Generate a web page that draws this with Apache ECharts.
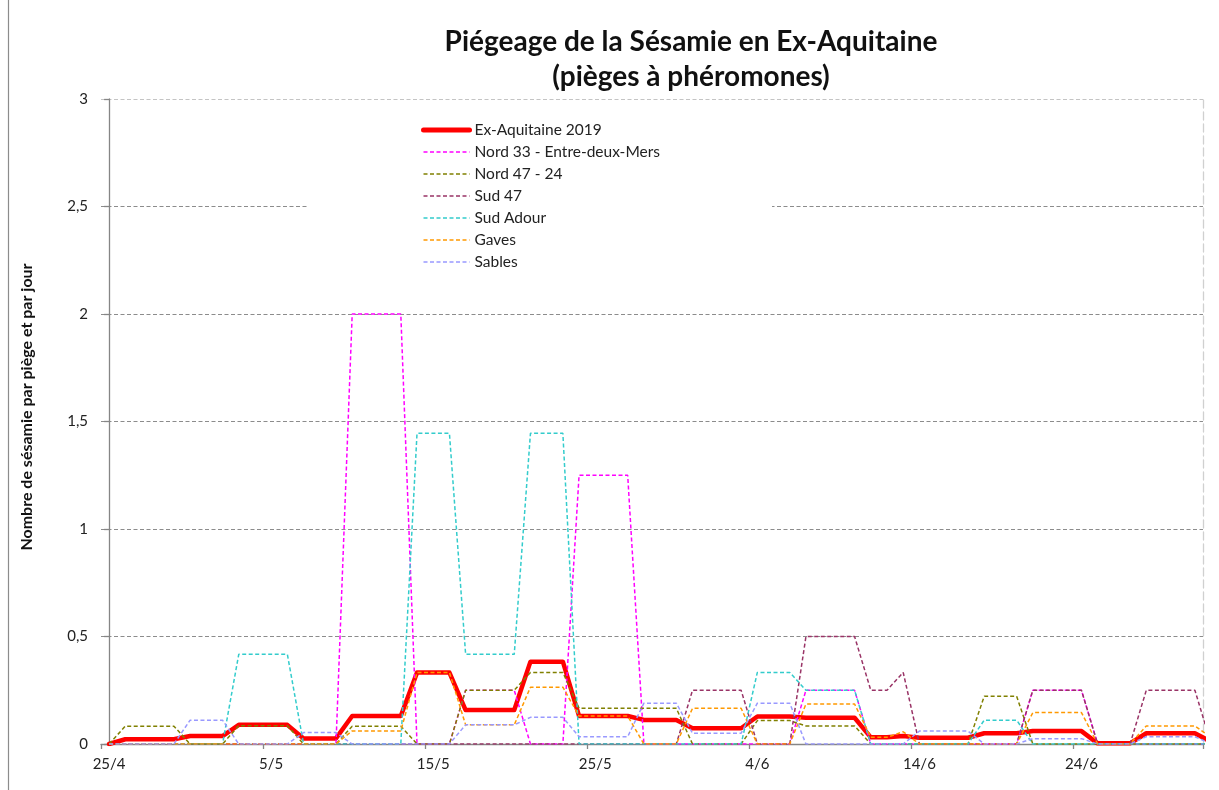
<!DOCTYPE html>
<html>
<head>
<meta charset="utf-8">
<script src="https://cdn.jsdelivr.net/npm/echarts@6/dist/echarts.min.js"></script>
<style>
html,body{margin:0;padding:0;background:#fff;}
#chart{width:1219px;height:790px;}
</style>
</head>
<body>
<div id="chart"></div>
<script>
// Days: 25/4 .. 2/7 (the last one lies just beyond the axis end, the lines run to it and are clipped)
const days = [
 '25/4','26/4','27/4','28/4','29/4','30/4',
 '1/5','2/5','3/5','4/5','5/5','6/5','7/5','8/5','9/5','10/5','11/5','12/5','13/5','14/5','15/5','16/5','17/5','18/5','19/5','20/5','21/5','22/5','23/5','24/5','25/5','26/5','27/5','28/5','29/5','30/5','31/5',
 '1/6','2/6','3/6','4/6','5/6','6/6','7/6','8/6','9/6','10/6','11/6','12/6','13/6','14/6','15/6','16/6','17/6','18/6','19/6','20/6','21/6','22/6','23/6','24/6','25/6','26/6','27/6','28/6','29/6','30/6',
 '1/7','2/7'
];
const axisDays = days.slice(0, 68);

const seriesNames = ['Ex-Aquitaine 2019','Nord 33 - Entre-deux-Mers','Nord 47 - 24','Sud 47','Sud Adour','Gaves','Sables'];

const exAquitaine = [
 0,
 0.022,0.022,0.022,0.022,
 0.037,0.037,0.037,
 0.089,0.089,0.089,0.089,
 0.026,0.026,0.026,
 0.13,0.13,0.13,0.13,
 0.332,0.332,0.332,
 0.158,0.158,0.158,0.158,
 0.383,0.383,0.383,
 0.13,0.13,0.13,0.13,
 0.112,0.112,0.112,
 0.073,0.073,0.073,0.073,
 0.128,0.128,0.128,
 0.122,0.122,0.122,0.122,
 0.031,0.031,0.037,
 0.029,0.029,0.029,0.029,
 0.05,0.05,0.05,
 0.06,0.06,0.06,0.06,
 0.003,0.003,0.003,
 0.05,0.05,0.05,0.05,
 0.01
];
const nord33 = [
 0,0,0,0,0,0,0,0,0,0,0,0,0,0,0,
 2,2,2,2,
 0,0,0,
 0.25,0.25,0.25,0.25,
 0,0,0,
 1.25,1.25,1.25,1.25,
 0,0,0,0,0,0,0,0,0,0,
 0.25,0.25,0.25,0.25,
 0,0,0,0,0,0,0,0,0,0,
 0.25,0.25,0.25,0.25,
 0,0,0,0,0,0,0,0
];
const nord47_24 = [
 0,
 0.083,0.083,0.083,0.083,
 0,0,0,
 0.085,0.085,0.085,0.085,
 0,0,0,
 0.083,0.083,0.083,0.083,
 0,0,0,
 0.25,0.25,0.25,0.25,
 0.333,0.333,0.333,
 0.166,0.166,0.166,0.166,0.166,0.166,0.166,
 0,0,0,0,
 0.109,0.109,0.109,
 0.084,0.084,0.084,0.084,
 0,0,0,0,0,0,0,
 0.222,0.222,0.222,
 0,0,0,0,0,0,0,0,0,0,0,0
];
const sud47 = [
 0,0,0,0,0,0,0,0,0,0,0,0,0,0,0,0,0,0,0,0,0,0,0,0,0,0,0,0,0,0,0,0,0,0,0,0,
 0.25,0.25,0.25,0.25,
 0,0,0,
 0.5,0.5,0.5,0.5,
 0.25,0.25,
 0.333,
 0,0,0,0,0,0,0,
 0.25,0.25,0.25,0.25,
 0,0,0,
 0.25,0.25,0.25,0.25,
 0
];
const sudAdour = [
 0,0,0,0,0,0,0,0,
 0.417,0.417,0.417,0.417,
 0,0,0,0,0,0,0,
 1.445,1.445,1.445,
 0.417,0.417,0.417,0.417,
 1.445,1.445,1.445,
 0,0,0,0,0,0,0,0,0,0,0,
 0.333,0.333,0.333,
 0.25,0.25,0.25,0.25,
 0,0,0,0,0,0,0,
 0.111,0.111,0.111,
 0,0,0,0,0,0,0,0,0,0,0,0
];
const gaves = [
 0,0,0,0,0,0,0,0,0,0,0,0,0,0,0,
 0.061,0.061,0.061,0.061,
 0.333,0.333,0.333,
 0.089,0.089,0.089,0.089,
 0.264,0.264,0.264,
 0.13,0.13,0.13,0.13,
 0,0,0,
 0.166,0.166,0.166,0.166,
 0,0,0,
 0.186,0.186,0.186,0.186,
 0.031,0.031,
 0.057,
 0,0,0,0,0,0,0,
 0.146,0.146,0.146,0.146,
 0,0,0,
 0.084,0.084,0.084,0.084,
 0.03
];
const sables = [
 0,0,0,0,0,
 0.111,0.111,0.111,
 0,0,0,0,
 0.053,0.053,0.053,
 0,0,0,0,0,0,0,
 0.089,0.089,0.089,0.089,
 0.124,0.124,0.124,
 0.034,0.034,0.034,0.034,
 0.19,0.19,0.19,
 0.05,0.05,0.05,0.05,
 0.19,0.19,0.19,
 0,0,0,0,0,0,0,
 0.06,0.06,0.06,0.06,
 0,0,0,
 0.025,0.025,0.025,0.025,
 0,0,0,
 0.034,0.034,0.034,0.034,
 0
];
const yTicks = [0, 0.5, 1, 1.5, 2, 2.5, 3];

const allValues = [exAquitaine, nord33, nord47_24, sud47, sudAdour, gaves, sables];
const colors = ['#ff0000','#ff00ff','#808000','#993366','#33cccc','#ff9900','#9999ff'];

const FONT = 'Lato, "Open Sans", sans-serif';

const series = allValues.map((arr, k) => ({
  name: seriesNames[k],
  type: 'line',
  xAxisIndex: 1,
  yAxisIndex: 0,
  data: arr.map((v, i) => [i, v]),
  showSymbol: false,
  symbol: 'none',
  clip: true,
  animation: false,
  z: 2 + k,
  lineStyle: k === 0
    ? { color: colors[k], width: 4.5, type: 'solid', cap: 'round', join: 'round' }
    : { color: colors[k], width: 1.5, type: [4, 2.5] },
  itemStyle: { color: colors[k] }
}));

const legendData = seriesNames.map((n, k) => k === 0
  ? { name: n, lineStyle: { width: 5, color: colors[0], type: 'solid', cap: 'round' } }
  : { name: n, lineStyle: { width: 1.5, color: colors[k], type: [4, 2.5] } });

const chart = echarts.init(document.getElementById('chart'), null, { renderer: 'canvas' });
chart.setOption({
  animation: false,
  backgroundColor: '#fff',
  title: {
    text: 'Piégeage de la Sésamie en Ex-Aquitaine\n(pièges à phéromones)',
    left: 686,
    top: 19,
    textAlign: 'center',
    textStyle: { fontFamily: FONT, fontSize: 28, fontWeight: 'bold', color: '#111', lineHeight: 35 }
  },
  legend: {
    orient: 'vertical',
    left: 308,
    top: 108,
    padding: [14, 112, 14, 113],
    backgroundColor: '#ffffff',
    itemWidth: 46,
    itemHeight: 14,
    itemGap: 6,
    itemStyle: { opacity: 0 },
    textStyle: { fontFamily: FONT, fontSize: 15.5, color: '#222' },
    data: legendData,
    z: 10
  },
  grid: { left: 101, right: 16, top: 99, bottom: 46, containLabel: false },
  xAxis: [
    {
      type: 'category',
      data: axisDays,
      boundaryGap: true,
      axisLine: { show: true, lineStyle: { color: '#868686', width: 1.3 } },
      axisTick: { show: true, interval: 9, length: 5, lineStyle: { color: '#868686', width: 1.3 } },
      axisLabel: { interval: 9, margin: 13, fontFamily: FONT, fontSize: 15, color: '#222' },
      splitLine: { show: false }
    },
    {
      type: 'value',
      min: -0.5,
      max: 67.5,
      show: false
    }
  ],
  yAxis: [
    {
      type: 'value',
      min: 0,
      max: 3,
      interval: 0.5,
      axisLine: { show: true, lineStyle: { color: '#868686', width: 1.3 } },
      axisTick: { show: true, length: 5, lineStyle: { color: '#868686', width: 1.3 } },
      axisLabel: {
        margin: 13,
        fontFamily: FONT, fontSize: 15, color: '#222',
        formatter: v => String(yTicks.find(t => Math.abs(t - v) < 1e-9) ?? v).replace('.', ',')
      },
      splitLine: {
        show: true,
        lineStyle: {
          color: ['#8c8c8c','#8c8c8c','#8c8c8c','#8c8c8c','#8c8c8c','#8c8c8c','#c4c4c4'],
          type: [4, 2.5],
          width: 1.2
        }
      }
    },
    {
      type: 'value',
      min: 0,
      max: 3,
      position: 'right',
      axisLine: { show: true, lineStyle: { color: '#d0d0d0', width: 1.3, type: [8, 4] } },
      axisTick: { show: false },
      axisLabel: { show: false },
      splitLine: { show: false }
    }
  ],
  graphic: [
    {
      type: 'line',
      shape: { x1: 8.5, y1: 0, x2: 8.5, y2: 790 },
      style: { stroke: '#8c8c8c', lineWidth: 1.2 },
      silent: true
    },
    {
      type: 'text',
      x: 27, y: 407,
      rotation: Math.PI / 2,
      style: {
        text: 'Nombre de sésamie par piège et par jour',
        fontFamily: FONT, fontSize: 16, fontWeight: 'bold', fill: '#111',
        align: 'center', verticalAlign: 'middle'
      },
      silent: true
    }
  ],
  series: series
});
</script>
</body>
</html>
